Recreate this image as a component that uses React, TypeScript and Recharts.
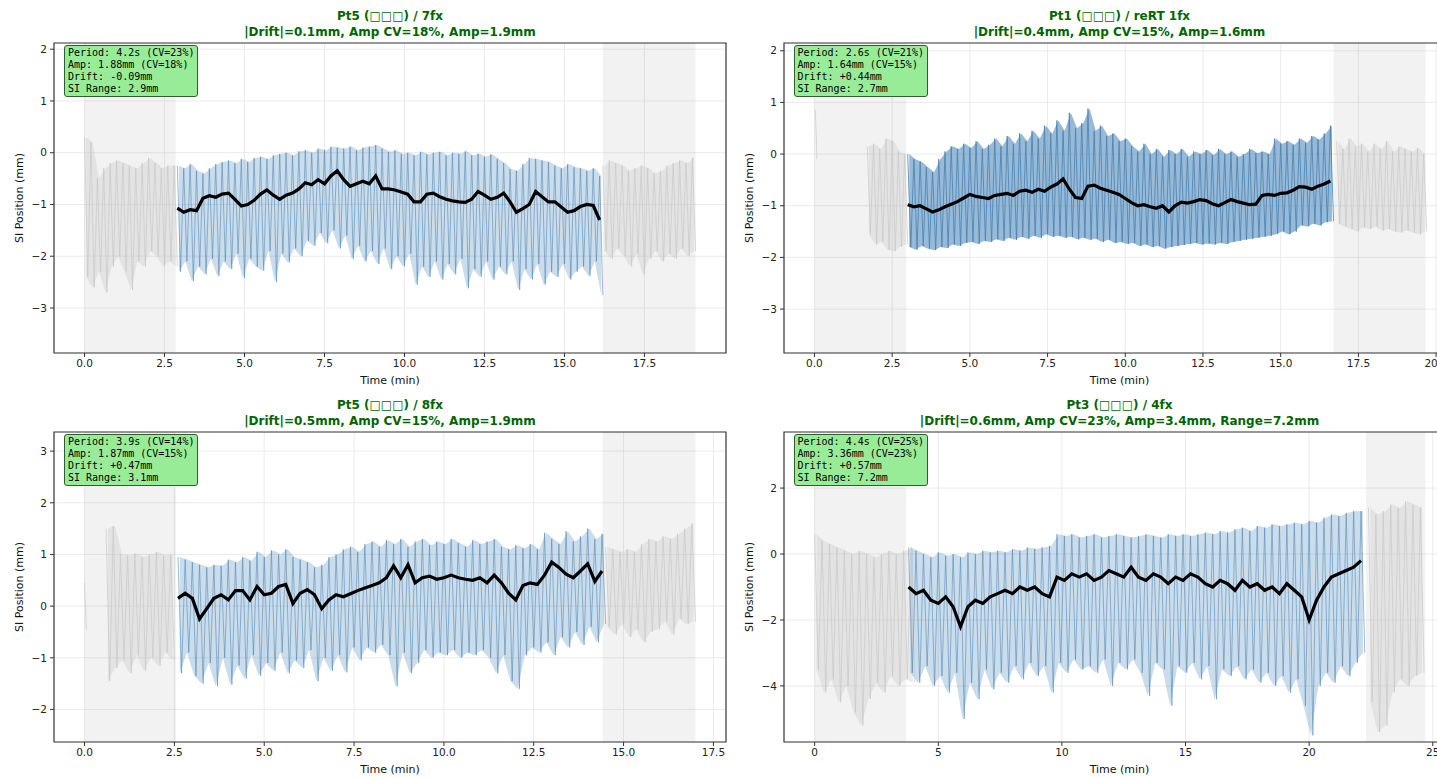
import React from "react";
import {
  ComposedChart,
  Line,
  Area,
  XAxis,
  YAxis,
  CartesianGrid,
  ReferenceArea,
} from "recharts";

// Breathing traces: values alternate peak / trough at a fixed sample step (min).
// Gray = excluded parts of the session, blue = analysed part, black = moving average.

// ---- Pt5 / 7fx (top left) ----
const tlSpans = [[0, 2.85], [16.2, 19.1]];
const tlGrayA = [0.3, -2.4, 0.2, -2.6, -0.5, -2.3, -0.3, -2.7, -0.2, -2.2, -0.15, -2.0, -0.2, -2.3, -0.25, -2.65, -0.3, -2.1, -0.2, -2.2, -0.1, -1.9, -0.2, -2.0, -0.3, -2.2, -0.25, -2.1, -0.25, -2.2];
const tlBlue = [
  -0.25, -2.3, -0.3, -2.1, -0.22, -2.48, -0.35, -2.2, -0.4, -2.35, -0.3, -2.05, -0.22, -2.38, -0.18, -2.1, -0.15, -2.25, -0.2, -1.95,
  -0.12, -2.42, -0.18, -2.05, -0.1, -2.2, -0.08, -2.28, -0.12, -1.9, -0.05, -2.5, -0.02, -1.95, 0.0, -2.12, -0.05, -1.85, 0.03, -2.0,
  0.05, -1.7, 0.0, -1.8, 0.08, -1.55, 0.05, -1.75, 0.12, -1.5, 0.1, -1.85, 0.08, -1.6, 0.12, -2.05, 0.05, -1.8, 0.1, -2.1,
  0.12, -1.9, 0.15, -2.15, 0.08, -1.85, 0.02, -2.25, 0.05, -2.0, -0.02, -2.2, 0.0, -1.95, -0.05, -2.55, 0.02, -2.2, -0.03, -2.4,
  0.0, -2.1, 0.02, -2.45, -0.05, -2.15, 0.0, -2.35, -0.02, -2.05, 0.03, -2.62, -0.05, -2.25, -0.02, -2.4, -0.08, -2.1, -0.03, -2.45,
  -0.12, -2.2, -0.2, -2.35, -0.32, -2.1, -0.35, -2.65, -0.22, -2.25, -0.1, -2.45, -0.12, -2.15, -0.15, -2.55, -0.18, -2.3, -0.25, -2.4,
  -0.3, -2.15, -0.22, -2.45, -0.28, -2.3, -0.3, -2.2, -0.35, -2.38, -0.3, -2.1, -0.45, -2.75,
];
const tlGrayB = [-0.25, -1.9, -0.15, -2.05, -0.2, -1.85, -0.25, -2.0, -0.35, -2.2, -0.3, -1.95, -0.25, -2.35, -0.3, -2.05, -0.4, -1.9, -0.35, -2.1, -0.25, -1.95, -0.2, -2.05, -0.15, -1.85, -0.2, -2.0, -0.1, -1.9];
const tlMean = [
  -1.07, -1.15, -1.1, -1.12, -0.88, -0.83, -0.86, -0.8, -0.78, -0.9, -1.03, -1.0, -0.92, -0.8, -0.72, -0.82, -0.9, -0.82, -0.78, -0.7,
  -0.58, -0.62, -0.52, -0.6, -0.45, -0.35, -0.52, -0.65, -0.6, -0.55, -0.6, -0.45, -0.7, -0.7, -0.72, -0.76, -0.8, -0.95, -0.95, -0.8,
  -0.78, -0.85, -0.9, -0.93, -0.95, -0.96, -0.9, -0.75, -0.82, -0.9, -0.86, -0.78, -0.95, -1.15, -1.08, -1.0, -0.75, -0.85, -0.95, -0.95,
  -1.05, -1.15, -1.12, -1.04, -1.0, -1.02, -1.3,
];

// ---- Pt1 / reRT 1fx (top right) ----
const trSpans = [[0, 2.95], [16.7, 19.66]];
const trSpike = [0.85, -0.1];
const trGrayA = [0.15, -1.55, 0.2, -1.75, 0.1, -1.7, 0.3, -1.85, 0.25, -1.88, 0.05, -1.8, 0.0, -1.75];
const trBlue = [
  0.0, -1.8, -0.1, -1.85, -0.15, -1.78, -0.25, -1.83, -0.35, -1.86, -0.1, -1.8, 0.05, -1.82, 0.15, -1.75, 0.1, -1.78, 0.2, -1.72,
  0.12, -1.7, 0.25, -1.74, 0.1, -1.68, 0.18, -1.7, 0.3, -1.65, 0.15, -1.68, 0.35, -1.62, 0.2, -1.66, 0.4, -1.6, 0.25, -1.64,
  0.45, -1.58, 0.3, -1.62, 0.55, -1.55, 0.4, -1.6, 0.65, -1.58, 0.45, -1.62, 0.8, -1.6, 0.5, -1.65, 0.6, -1.62, 0.88, -1.66,
  0.45, -1.64, 0.55, -1.7, 0.35, -1.66, 0.4, -1.72, 0.25, -1.7, 0.3, -1.74, 0.15, -1.72, 0.05, -1.78, 0.2, -1.75, 0.0, -1.8,
  0.1, -1.78, -0.05, -1.83, 0.08, -1.8, 0.0, -1.78, 0.1, -1.76, -0.05, -1.74, 0.05, -1.72, 0.0, -1.75, 0.08, -1.73, -0.02, -1.75,
  0.1, -1.72, 0.0, -1.74, 0.05, -1.7, -0.05, -1.68, 0.0, -1.66, 0.1, -1.64, 0.02, -1.62, 0.05, -1.6, 0.0, -1.58, 0.3, -1.55,
  0.2, -1.5, 0.25, -1.55, 0.18, -1.5, 0.3, -1.38, 0.22, -1.4, 0.35, -1.35, 0.28, -1.38, 0.4, -1.32, 0.55, -1.3,
];
const trGrayB = [0.25, -1.35, 0.1, -1.4, 0.3, -1.45, 0.15, -1.5, 0.2, -1.42, 0.05, -1.45, 0.2, -1.4, 0.1, -1.48, 0.25, -1.45, 0.05, -1.5, 0.15, -1.52, 0.1, -1.48, 0.05, -1.52, 0.12, -1.55, 0.0, -1.5];
const trMean = [
  -0.98, -1.02, -1.0, -1.06, -1.12, -1.08, -1.02, -0.97, -0.92, -0.85, -0.78, -0.82, -0.84, -0.86, -0.8, -0.78, -0.76, -0.8, -0.72, -0.7,
  -0.74, -0.68, -0.72, -0.64, -0.58, -0.48, -0.68, -0.84, -0.86, -0.62, -0.6, -0.66, -0.7, -0.74, -0.78, -0.86, -0.94, -1.0, -0.98, -1.02,
  -1.05, -1.0, -1.12, -1.0, -0.93, -0.95, -0.92, -0.88, -0.9, -0.96, -1.0, -0.94, -0.88, -0.92, -0.95, -0.98, -0.97, -0.8, -0.78, -0.8,
  -0.76, -0.75, -0.7, -0.63, -0.64, -0.68, -0.62, -0.58, -0.52,
];

// ---- Pt5 / 8fx (bottom left) ----
const blSpans = [[0, 2.55], [14.42, 17.0]];
const blSpike = [0.45, -0.45];
const blGrayA = [1.5, -1.45, 1.55, -1.2, 1.0, -1.05, 0.98, -1.3, 1.02, -0.95, 0.95, -1.25, 1.0, -1.0, 1.05, -1.15, 0.98, -0.9, 1.0, -1.05];
const blBlue = [
  0.95, -1.3, 0.9, -0.9, 0.85, -1.35, 0.8, -1.5, 0.75, -1.1, 0.8, -1.55, 0.78, -1.0, 0.9, -1.52, 0.85, -1.15, 0.95, -1.4,
  0.88, -0.95, 1.05, -1.35, 0.95, -1.1, 1.08, -1.25, 1.0, -0.9, 1.1, -1.3, 0.95, -1.05, 0.9, -1.2, 0.85, -0.85, 0.75, -1.45,
  0.8, -1.0, 0.95, -1.25, 1.0, -0.95, 1.1, -1.28, 1.15, -0.8, 1.05, -1.05, 1.2, -0.8, 1.25, -0.9, 1.15, -0.75, 1.28, -0.95,
  1.2, -1.55, 1.3, -0.9, 1.15, -1.3, 1.25, -1.1, 1.3, -0.85, 1.18, -1.0, 1.25, -0.9, 1.2, -0.95, 1.3, -0.85, 1.22, -1.0,
  1.15, -0.9, 1.28, -0.95, 1.2, -0.85, 1.25, -1.0, 1.3, -1.3, 1.15, -0.95, 1.1, -1.45, 1.18, -1.6, 1.12, -0.95, 1.2, -0.8,
  1.1, -0.9, 1.42, -0.7, 1.3, -0.95, 1.2, -0.6, 1.45, -0.8, 1.25, -0.5, 1.35, -0.75, 1.5, -0.4, 1.3, -0.7, 1.4, -0.35,
];
const blGrayB = [1.15, -0.4, 1.1, -0.55, 1.05, -0.35, 1.1, -0.6, 1.05, -0.45, 1.2, -0.7, 1.3, -0.5, 1.25, -0.45, 1.35, -0.3, 1.3, -0.55, 1.4, -0.25, 1.5, -0.35, 1.6, -0.3];
const blMean = [
  0.15, 0.25, 0.15, -0.25, -0.05, 0.15, 0.22, 0.12, 0.3, 0.3, 0.12, 0.38, 0.22, 0.25, 0.38, 0.42, 0.05, 0.25, 0.32, 0.22,
  -0.05, 0.12, 0.22, 0.18, 0.24, 0.3, 0.35, 0.4, 0.45, 0.55, 0.78, 0.55, 0.8, 0.45, 0.55, 0.58, 0.52, 0.55, 0.6, 0.55,
  0.52, 0.5, 0.55, 0.45, 0.6, 0.45, 0.25, 0.12, 0.4, 0.45, 0.42, 0.6, 0.85, 0.75, 0.62, 0.55, 0.68, 0.82, 0.48, 0.68,
];

// ---- Pt3 / 4fx (bottom right) ----
const brSpans = [[0, 3.7], [22.3, 24.7]];
const brGrayA = [0.6, -3.5, 0.4, -4.2, 0.3, -3.8, 0.2, -4.5, 0.1, -4.0, 0.0, -4.8, 0.1, -5.2, 0.0, -4.4, -0.1, -3.9, 0.0, -4.2, 0.1, -3.7, 0.0, -4.0, 0.1, -3.8, 0.2, -3.9];
const brBlue = [
  0.2, -3.6, 0.1, -3.9, 0.0, -3.4, -0.1, -4.0, 0.05, -3.7, -0.05, -4.2, 0.0, -3.6, -0.1, -5.0, 0.05, -3.9, 0.0, -4.4,
  0.1, -3.5, 0.05, -4.1, 0.1, -3.6, 0.05, -3.9, 0.15, -3.4, 0.1, -3.8, 0.2, -3.3, 0.15, -3.7, 0.2, -3.4, 0.25, -4.2,
  0.6, -3.3, 0.55, -3.6, 0.6, -3.2, 0.5, -3.5, 0.55, -3.4, 0.6, -3.6, 0.5, -3.2, 0.55, -4.0, 0.6, -3.3, 0.55, -3.5,
  0.5, -3.2, 0.55, -3.6, 0.6, -4.3, 0.55, -3.3, 0.5, -3.5, 0.6, -4.6, 0.55, -3.4, 0.6, -3.6, 0.55, -3.3, 0.6, -3.8,
  0.65, -3.4, 0.6, -4.4, 0.7, -3.5, 0.65, -3.7, 0.75, -3.4, 0.8, -3.8, 0.7, -3.5, 0.85, -3.9, 0.8, -3.6, 0.9, -4.0,
  0.85, -3.7, 0.9, -4.2, 0.95, -3.8, 0.9, -4.6, 1.0, -5.5, 0.95, -4.0, 1.1, -3.6, 1.2, -3.9, 1.15, -3.4, 1.25, -3.7,
  1.3, -3.3, 1.3, -3.0,
];
const brGrayB = [1.4, -4.5, 1.2, -5.4, 1.3, -5.2, 1.5, -4.2, 1.4, -3.8, 1.6, -4.0, 1.5, -3.7, 1.4, -3.6];
const brMean = [
  -1.0, -1.2, -1.1, -1.4, -1.5, -1.3, -1.6, -2.2, -1.6, -1.4, -1.5, -1.3, -1.2, -1.1, -1.2, -1.0, -1.1, -1.0, -1.2, -1.3,
  -0.7, -0.8, -0.6, -0.7, -0.6, -0.8, -0.7, -0.5, -0.6, -0.7, -0.4, -0.7, -0.8, -0.6, -0.7, -0.9, -0.7, -0.8, -0.6, -0.7,
  -0.9, -1.0, -0.8, -0.9, -1.1, -0.8, -1.0, -0.9, -1.1, -1.0, -1.2, -0.9, -1.1, -1.3, -2.0, -1.4, -1.0, -0.7, -0.6, -0.5,
  -0.4, -0.2,
];

const PW = 672;
const PH = 310;
const GREEN = "#006400";

type Pt = { t: number; v: number };
type Band = { t: number; r: [number, number] };

const pts = (start: number, dt: number, vals: number[]): Pt[] =>
  vals.map((v, i) => ({ t: +(start + i * dt).toFixed(3), v }));

// peak/trough pairs -> [trough, peak] range at the middle of each pair
const band = (start: number, dt: number, vals: number[]): Band[] => {
  const out: Band[] = [];
  for (let i = 0; i + 1 < vals.length; i += 2) {
    out.push({
      t: +(start + (i + 0.5) * dt).toFixed(3),
      r: [Math.min(vals[i], vals[i + 1]), Math.max(vals[i], vals[i + 1])],
    });
  }
  return out;
};

type Trace = { start: number; dt: number; vals: number[] };

type PanelProps = {
  left: number;
  top: number;
  xDomain: [number, number];
  yDomain: [number, number];
  xTicks: number[];
  yTicks: number[];
  xDigits: number;
  spans: number[][];
  gray: Trace[];
  blue: Trace;
  black: Trace;
  blueFill: number;
  blueLine: number;
  title1: string;
  title2: string;
  stats: string[];
};

const minus = (s: string) => s.replace("-", "\u2212");
const tickStyle = { fontSize: 10.5, fill: "#222", fontFamily: "DejaVu Sans" };

const Panel = (p: PanelProps) => (
  <>
    <div
      style={{
        position: "absolute",
        left: p.left,
        top: p.top - 35,
        width: PW,
        textAlign: "center",
        color: GREEN,
        fontWeight: "bold",
        fontSize: 12,
        lineHeight: "16px",
        whiteSpace: "nowrap",
      }}
    >
      <div>{p.title1}</div>
      <div>{p.title2}</div>
    </div>
    <div style={{ position: "absolute", left: p.left - 60, top: p.top - 10 }}>
      <ComposedChart
        width={PW + 70}
        height={PH + 40}
        margin={{ top: 10, right: 10, bottom: 0, left: 0 }}
      >
        <CartesianGrid stroke="#e6e6e6" strokeWidth={0.8} />
        {p.spans.map((s, i) => (
          <ReferenceArea
            key={`s${i}`}
            x1={s[0]}
            x2={s[1]}
            fill="#808080"
            fillOpacity={0.1}
            stroke="none"
          />
        ))}
        <XAxis
          type="number"
          dataKey="t"
          domain={p.xDomain}
          ticks={p.xTicks}
          allowDataOverflow
          interval={0}
          height={30}
          axisLine={false}
          tickLine={{ stroke: "#333" }}
          tickSize={4}
          tickMargin={3}
          tick={tickStyle}
          tickFormatter={(v: number) => v.toFixed(p.xDigits)}
        />
        <YAxis
          type="number"
          domain={p.yDomain}
          ticks={p.yTicks}
          allowDataOverflow
          interval={0}
          width={60}
          axisLine={false}
          tickLine={{ stroke: "#333" }}
          tickSize={4}
          tickMargin={3}
          tick={tickStyle}
          tickFormatter={(v: number) => minus(String(v))}
        />
        {p.gray.map((g, i) =>
          g.vals.length > 2 ? (
            <Area
              key={`ga${i}`}
              data={band(g.start, g.dt, g.vals)}
              dataKey="r"
              type="linear"
              stroke="none"
              fill="#c8c8c8"
              fillOpacity={0.35}
              isAnimationActive={false}
            />
          ) : null
        )}
        {p.gray.map((g, i) => (
          <Line
            key={`g${i}`}
            data={pts(g.start, g.dt, g.vals)}
            dataKey="v"
            type="linear"
            stroke="#c8c8c8"
            strokeWidth={0.7}
            dot={false}
            isAnimationActive={false}
          />
        ))}
        <Area
          data={band(p.blue.start, p.blue.dt, p.blue.vals)}
          dataKey="r"
          type="linear"
          stroke="none"
          fill="#4682b4"
          fillOpacity={p.blueFill}
          isAnimationActive={false}
        />
        <Line
          data={pts(p.blue.start, p.blue.dt, p.blue.vals)}
          dataKey="v"
          type="linear"
          stroke="#4682b4"
          strokeOpacity={p.blueLine}
          strokeWidth={0.9}
          dot={false}
          isAnimationActive={false}
        />
        <Line
          data={pts(p.black.start, p.black.dt, p.black.vals)}
          dataKey="v"
          type="linear"
          stroke="#000"
          strokeWidth={3.2}
          dot={false}
          isAnimationActive={false}
        />
        <ReferenceArea
          x1={p.xDomain[0]}
          x2={p.xDomain[1]}
          y1={p.yDomain[0]}
          y2={p.yDomain[1]}
          fill="none"
          stroke="#3a3a3a"
          strokeWidth={1.2}
        />
      </ComposedChart>
    </div>
    <div
      style={{
        position: "absolute",
        left: p.left + 10,
        top: p.top + 2,
        padding: "1px 3px",
        background: "#98ec98",
        border: "1px solid #2f5f2f",
        borderRadius: 3,
        fontFamily: "DejaVu Sans Mono",
        fontSize: 10,
        lineHeight: "12px",
        whiteSpace: "pre",
      }}
    >
      {p.stats.join("\n")}
    </div>
    <div
      style={{
        position: "absolute",
        left: p.left,
        top: p.top + PH + 21,
        width: PW,
        textAlign: "center",
        fontSize: 11,
        lineHeight: "14px",
        color: "#111",
      }}
    >
      Time (min)
    </div>
    <div
      style={{
        position: "absolute",
        left: p.left - 35,
        top: p.top + PH / 2,
        transform: "translate(-50%, -50%) rotate(-90deg)",
        fontSize: 11,
        whiteSpace: "nowrap",
        color: "#111",
      }}
    >
      SI Position (mm)
    </div>
  </>
);

export default function App() {
  const tick25 = [0, 2.5, 5, 7.5, 10, 12.5, 15, 17.5];
  return (
    <div
      style={{
        position: "absolute",
        left: 0,
        top: 0,
        width: 1437,
        height: 778,
        overflow: "hidden",
        background: "#fff",
        fontFamily: "DejaVu Sans",
      }}
    >
      <Panel
        left={54}
        top={43}
        xDomain={[-0.955, 20.05]}
        yDomain={[-3.87, 2.12]}
        xTicks={tick25}
        yTicks={[-3, -2, -1, 0, 1, 2]}
        xDigits={1}
        spans={tlSpans}
        gray={[
          { start: 0, dt: 0.1, vals: tlGrayA },
          { start: 16.2, dt: 0.1, vals: tlGrayB },
        ]}
        blue={{ start: 2.9, dt: 0.1, vals: tlBlue }}
        black={{ start: 2.9, dt: 0.2, vals: tlMean }}
        blueFill={0.28}
        blueLine={0.6}
        title1="Pt5 (□□□) / 7fx"
        title2="|Drift|=0.1mm, Amp CV=18%, Amp=1.9mm"
        stats={["Period: 4.2s (CV=23%)", "Amp: 1.88mm (CV=18%)", "Drift: -0.09mm", "SI Range: 2.9mm"]}
      />
      <Panel
        left={783.5}
        top={43}
        xDomain={[-0.98, 20.64]}
        yDomain={[-3.85, 2.15]}
        xTicks={[...tick25, 20]}
        yTicks={[-3, -2, -1, 0, 1, 2]}
        xDigits={1}
        spans={trSpans}
        gray={[
          { start: 0.03, dt: 0.05, vals: trSpike },
          { start: 1.7, dt: 0.1, vals: trGrayA },
          { start: 16.8, dt: 0.1, vals: trGrayB },
        ]}
        blue={{ start: 3.0, dt: 0.1, vals: trBlue }}
        black={{ start: 3.0, dt: 0.2, vals: trMean }}
        blueFill={0.55}
        blueLine={0.9}
        title1="Pt1 (□□□) / reRT 1fx"
        title2="|Drift|=0.4mm, Amp CV=15%, Amp=1.6mm"
        stats={["Period: 2.6s (CV=21%)", "Amp: 1.64mm (CV=15%)", "Drift: +0.44mm", "SI Range: 2.7mm"]}
      />
      <Panel
        left={54}
        top={432}
        xDomain={[-0.85, 17.85]}
        yDomain={[-2.63, 3.37]}
        xTicks={tick25}
        yTicks={[-2, -1, 0, 1, 2, 3]}
        xDigits={1}
        spans={blSpans}
        gray={[
          { start: 0, dt: 0.05, vals: blSpike },
          { start: 0.6, dt: 0.1, vals: blGrayA },
          { start: 14.5, dt: 0.1, vals: blGrayB },
        ]}
        blue={{ start: 2.6, dt: 0.1, vals: blBlue }}
        black={{ start: 2.6, dt: 0.2, vals: blMean }}
        blueFill={0.28}
        blueLine={0.6}
        title1="Pt5 (□□□) / 8fx"
        title2="|Drift|=0.5mm, Amp CV=15%, Amp=1.9mm"
        stats={["Period: 3.9s (CV=14%)", "Amp: 1.87mm (CV=15%)", "Drift: +0.47mm", "SI Range: 3.1mm"]}
      />
      <Panel
        left={783.5}
        top={432}
        xDomain={[-1.24, 25.94]}
        yDomain={[-5.7, 3.7]}
        xTicks={[0, 5, 10, 15, 20, 25]}
        yTicks={[-4, -2, 0, 2]}
        xDigits={0}
        spans={brSpans}
        gray={[
          { start: 0, dt: 0.15, vals: brGrayA },
          { start: 22.4, dt: 0.15, vals: brGrayB },
        ]}
        blue={{ start: 3.8, dt: 0.15, vals: brBlue }}
        black={{ start: 3.8, dt: 0.3, vals: brMean }}
        blueFill={0.28}
        blueLine={0.6}
        title1="Pt3 (□□□) / 4fx"
        title2="|Drift|=0.6mm, Amp CV=23%, Amp=3.4mm, Range=7.2mm"
        stats={["Period: 4.4s (CV=25%)", "Amp: 3.36mm (CV=23%)", "Drift: +0.57mm", "SI Range: 7.2mm"]}
      />
    </div>
  );
}
